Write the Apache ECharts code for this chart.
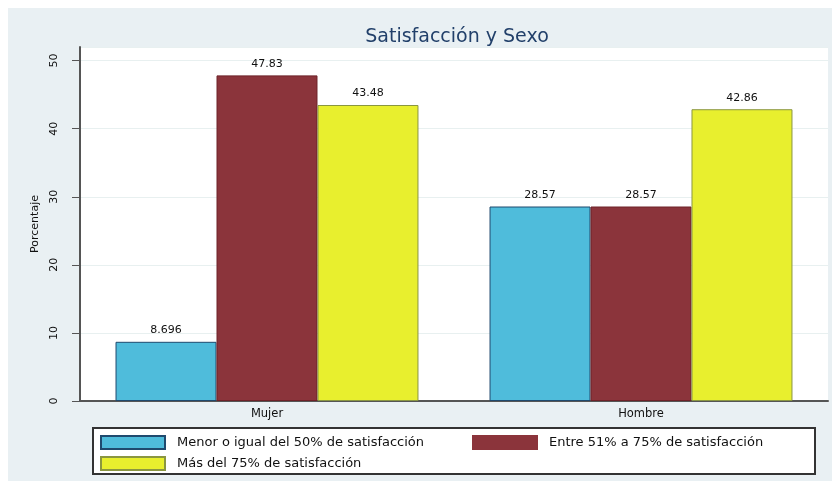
<!DOCTYPE html>
<html>
<head>
<meta charset="utf-8">
<script src="https://cdn.jsdelivr.net/npm/echarts@6/dist/echarts.min.js"></script>
<style>
  html, body { margin: 0; padding: 0; background: #fff; }
  #chart { width: 836px; height: 491px; }
</style>
</head>
<body>
<div id="chart"></div>
<script>
    var categories = ['Mujer', 'Hombre'];
    var seriesNames = [
        'Menor o igual del 50% de satisfacción',
        'Entre 51% a 75% de satisfacción',
        'Más del 75% de satisfacción'
    ];
    var menor50 = [8.696, 28.57];
    var entre51y75 = [47.83, 28.57];
    var mas75 = [43.48, 42.86];

    var font = 'DejaVu Sans, Verdana, sans-serif';

    function barSeries(name, data, color, border) {
        return {
            name: name,
            type: 'bar',
            data: data,
            barGap: 0,
            barCategoryGap: '19%',
            itemStyle: {
                color: color,
                borderColor: border,
                borderWidth: 1
            },
            label: {
                show: true,
                position: 'top',
                distance: 6,
                color: '#111',
                fontSize: 11,
                fontFamily: font
            }
        };
    }

    var legendText = {fontSize: 13, color: '#111', fontFamily: font, padding: [0, 0, 0, 7]};

    var myChart = echarts.init(document.getElementById('chart'));
    var option = {
        backgroundColor: '#fff',
        animation: false,
        title: {
            text: 'Satisfacción y Sexo',
            left: 452,
            textAlign: 'center',
            top: 23,
            textStyle: {
                color: '#22406a',
                fontSize: 19,
                fontWeight: 'normal',
                fontFamily: font
            }
        },
        graphic: [
            {
                type: 'rect',
                z: -10,
                shape: {x: 8, y: 8, width: 824, height: 473},
                style: {fill: '#e9f0f3'}
            },
            {
                type: 'rect',
                z: 1,
                shape: {x: 93, y: 428, width: 722, height: 46},
                style: {fill: '#fff', stroke: '#333', lineWidth: 2}
            }
        ],
        grid: {
            left: 80,
            top: 47,
            right: 8,
            bottom: 90,
            show: true,
            backgroundColor: '#fff',
            borderWidth: 0
        },
        legend: [
            {
                data: [seriesNames[0], seriesNames[2]],
                orient: 'vertical',
                left: 95,
                top: 430,
                itemWidth: 64,
                itemHeight: 13,
                itemGap: 6,
                icon: 'rect',
                textStyle: legendText
            },
            {
                data: [seriesNames[1]],
                orient: 'vertical',
                left: 467,
                top: 430,
                itemWidth: 64,
                itemHeight: 13,
                icon: 'rect',
                itemStyle: {borderColor: '#8b343b'},
                textStyle: legendText
            }
        ],
        xAxis: {
            type: 'category',
            data: categories,
            axisLine: {lineStyle: {color: '#555', width: 2}},
            axisTick: {show: false},
            axisLabel: {color: '#111', fontSize: 11.5, margin: 7, fontFamily: font},
            splitLine: {show: false}
        },
        yAxis: {
            type: 'value',
            min: 0,
            max: 52,
            interval: 10,
            name: 'Porcentaje',
            nameLocation: 'middle',
            nameRotate: 90,
            nameGap: 37,
            nameTextStyle: {color: '#111', fontSize: 11, fontFamily: font},
            axisLine: {show: true, lineStyle: {color: '#555', width: 2}},
            axisTick: {show: true, length: 8, lineStyle: {color: '#555', width: 1}},
            axisLabel: {rotate: 90, color: '#111', fontSize: 11, margin: 20, fontFamily: font, showMaxLabel: false},
            splitLine: {show: true, lineStyle: {color: '#e8f0f0', width: 1}}
        },
        series: [
            barSeries(seriesNames[0], menor50, '#4fbcdb', '#1f4a6e'),
            barSeries(seriesNames[1], entre51y75, '#8b343b', '#6e2228'),
            barSeries(seriesNames[2], mas75, '#e8ef2e', '#8a9640')
        ]
    };

    myChart.setOption(option);
</script>
</body>
</html>
